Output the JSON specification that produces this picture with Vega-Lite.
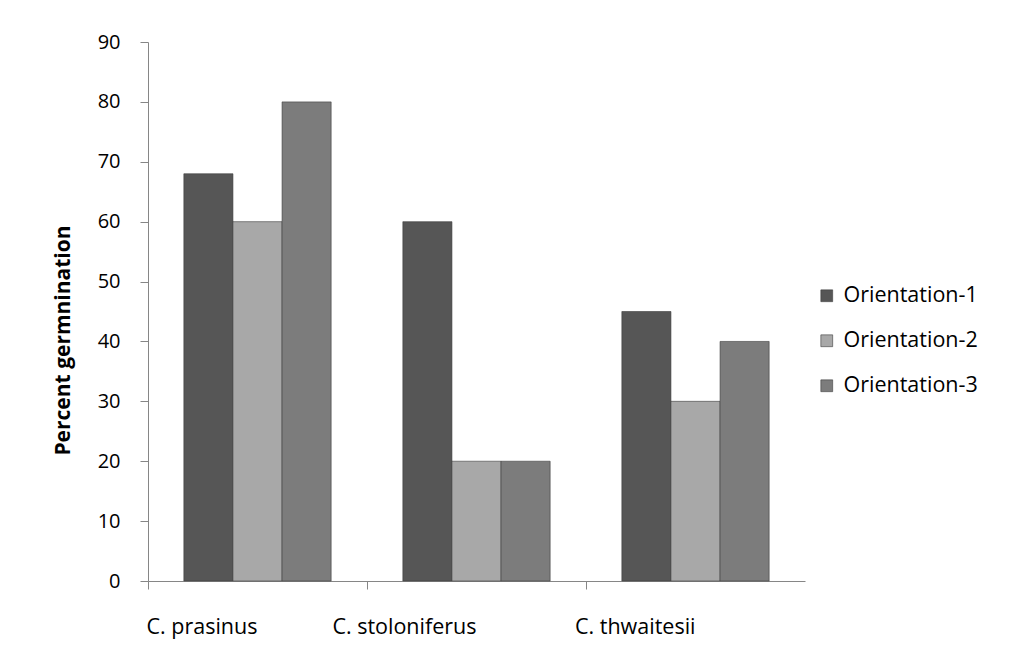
{
  "$schema": "https://vega.github.io/schema/vega-lite/v6.json",
  "width": 657,
  "height": 539,
  "autosize": {"type": "none"},
  "padding": {"left": 148, "top": 42, "right": 221, "bottom": 84},
  "background": "white",
  "data": {
    "values": [
      {"species": "C. prasinus", "series": "Orientation-1", "value": 68},
      {"species": "C. prasinus", "series": "Orientation-2", "value": 60},
      {"species": "C. prasinus", "series": "Orientation-3", "value": 80},
      {"species": "C. stoloniferus", "series": "Orientation-1", "value": 60},
      {"species": "C. stoloniferus", "series": "Orientation-2", "value": 20},
      {"species": "C. stoloniferus", "series": "Orientation-3", "value": 20},
      {"species": "C. thwaitesii", "series": "Orientation-1", "value": 45},
      {"species": "C. thwaitesii", "series": "Orientation-2", "value": 30},
      {"species": "C. thwaitesii", "series": "Orientation-3", "value": 40}
    ]
  },
  "mark": {"type": "bar", "stroke": "#3c3c3c", "strokeWidth": 0.6},
  "encoding": {
    "x": {
      "field": "species",
      "type": "nominal",
      "sort": null,
      "scale": {"paddingInner": 0, "paddingOuter": 0},
      "axis": {
        "title": null,
        "labelAngle": 0,
        "labelAlign": "right",
        "labelFont": "Open Sans",
        "labelFontSize": 21.5,
        "labelColor": "#000000",
        "labelPadding": 27,
        "bandPosition": 0,
        "domainColor": "#868686",
        "tickColor": "#868686",
        "tickSize": 8,
        "ticks": true
      }
    },
    "xOffset": {
      "field": "series",
      "type": "nominal",
      "scale": {"paddingInner": 0, "paddingOuter": 0.73}
    },
    "y": {
      "field": "value",
      "type": "quantitative",
      "scale": {"domain": [0, 90], "nice": false},
      "axis": {
        "title": "Percent germnination",
        "titleFont": "Open Sans",
        "titleFontSize": 21,
        "titleFontWeight": "bold",
        "titleColor": "#000000",
        "titlePadding": 24,
        "titleY": 298,
        "values": [0, 10, 20, 30, 40, 50, 60, 70, 80, 90],
        "grid": false,
        "labelFont": "Open Sans",
        "labelFontSize": 20,
        "labelColor": "#000000",
        "labelPadding": 20,
        "domainColor": "#868686",
        "tickColor": "#868686",
        "tickSize": 8
      }
    },
    "color": {
      "field": "series",
      "type": "nominal",
      "scale": {
        "domain": ["Orientation-1", "Orientation-2", "Orientation-3"],
        "range": ["#565656", "#a8a8a8", "#7c7c7c"]
      },
      "legend": {
        "title": null,
        "orient": "none",
        "legendX": 668,
        "legendY": 243,
        "symbolType": "square",
        "symbolSize": 140,
        "symbolStrokeColor": "#3c3c3c",
        "symbolStrokeWidth": 0.6,
        "labelFont": "Open Sans",
        "labelFontSize": 21.5,
        "labelColor": "#000000",
        "rowPadding": 22,
        "labelOffset": 6
      }
    }
  },
  "config": {
    "view": {"stroke": null},
    "legend": {"padding": 0}
  }
}
